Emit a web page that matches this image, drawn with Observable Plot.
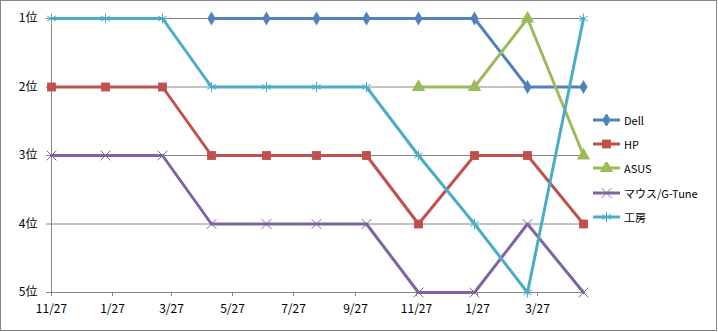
<!DOCTYPE html>
<html><head><meta charset="utf-8">
<script src="https://cdn.jsdelivr.net/npm/d3@7"></script>
<script src="https://cdn.jsdelivr.net/npm/@observablehq/plot@0.6"></script>
<style>
body{margin:0;background:#fff;}
#wrap{position:relative;width:718px;height:332px;}
#border{position:absolute;left:0;top:0;width:715px;height:329px;border:1px solid #868686;pointer-events:none;}
#legend{position:absolute;left:593px;top:108px;font-family:'Noto Sans CJK JP',sans-serif;font-size:11px;color:#000;}
#legend .item{height:24.2px;display:flex;align-items:center;}
#legend svg{margin-right:3px;}
</style>
</head><body>
<div id="wrap"><div id="chart"></div><div id="legend"></div><div id="border"></div></div>
<script>
const dates = ["2010-11-27","2011-01-20","2011-03-18","2011-05-06","2011-06-30","2011-08-19","2011-10-08","2011-11-29","2012-01-24","2012-03-17","2012-05-12"];
const seriesNames = ["Dell","HP","ASUS","マウス/G-Tune","工房"];
const dell  = [null,null,null,1,1,1,1,1,1,2,2];
const hp    = [2,2,2,3,3,3,3,4,3,3,4];
const asus  = [null,null,null,null,null,null,null,2,2,1,3];
const mouse = [3,3,3,4,4,4,4,5,5,4,5];
const kobo  = [1,1,1,2,2,2,2,3,4,5,1];
const xTicks = ["2010-11-27","2011-01-27","2011-03-27","2011-05-27","2011-07-27","2011-09-27","2011-11-27","2012-01-27","2012-03-27"];
const yTicks = [1,2,3,4,5];
const colors = ["#4F81BD","#C0504D","#9BBB59","#8064A2","#4BACC6"];
const symbols = ["diamond","square","triangle","times","asterisk"];

const values = [dell,hp,asus,mouse,kobo];
const rows = [];
values.forEach((arr,si)=>arr.forEach((v,i)=>{ if(v!=null) rows.push({series:seriesNames[si], date:new Date(dates[i]), rank:v}); }));

const markOpts = [
  {r:4.3, fill:colors[0], stroke:"none"},
  {r:5, fill:colors[1], stroke:"none"},
  {r:5, fill:colors[2], stroke:"none"},
  {r:4.5, fill:"none", stroke:colors[3], strokeWidth:1},
  {r:4.8, fill:"none", stroke:colors[4], strokeWidth:1}
];

const marks = [
  Plot.gridY(yTicks, {stroke:"#868686", strokeOpacity:1}),
  Plot.ruleX([new Date(dates[0])], {stroke:"#868686", y1:1, y2:5}),
  Plot.axisY(yTicks, {tickSize:5, tickPadding:9, stroke:"#868686", fill:"#000", tickFormat:d=>d+"位", fontSize:12}),
  Plot.axisX(xTicks.map(d=>new Date(d)), {tickSize:4, tickPadding:8, stroke:"#868686", fill:"#000", tickFormat:d3.utcFormat("%-m/%-d"), fontSize:12})
];
seriesNames.forEach((s,si)=>{
  const data = rows.filter(r=>r.series===s);
  marks.push(Plot.line(data,{x:"date",y:"rank",stroke:colors[si],strokeWidth:3,strokeLinejoin:"round"}));
  marks.push(Plot.dot(data,{x:"date",y:"rank",symbol:symbols[si],...markOpts[si]}));
});

const chart = Plot.plot({
  width:718, height:332,
  marginLeft:51, marginRight:135, marginTop:18, marginBottom:40,
  x:{type:"utc", domain:[new Date(dates[0]), new Date(dates[dates.length-1])], label:null},
  y:{domain:[5,1], label:null},
  style:{fontFamily:"'Noto Sans CJK JP',sans-serif", fontSize:"12px", background:"white", color:"#000"},
  marks
});
document.getElementById("chart").appendChild(chart);

// legend
const leg = d3.select("#legend");
seriesNames.forEach((s,si)=>{
  const it = leg.append("div").attr("class","item");
  const svg = it.append("svg").attr("width",28).attr("height",12);
  svg.append("line").attr("x1",0).attr("x2",27).attr("y1",6).attr("y2",6).attr("stroke",colors[si]).attr("stroke-width",3);
  const symMap = {diamond:d3.symbolDiamond, square:d3.symbolSquare, triangle:d3.symbolTriangle, times:d3.symbolTimes, asterisk:d3.symbolAsterisk};
  const r = markOpts[si].r;
  svg.append("path").attr("transform","translate(13.5,6)")
    .attr("d", d3.symbol(symMap[symbols[si]], Math.PI*r*r)())
    .attr("fill", markOpts[si].fill).attr("stroke", markOpts[si].stroke==="none"?"none":colors[si]).attr("stroke-width",1);
  it.append("span").text(s);
});
</script>
</body></html>
